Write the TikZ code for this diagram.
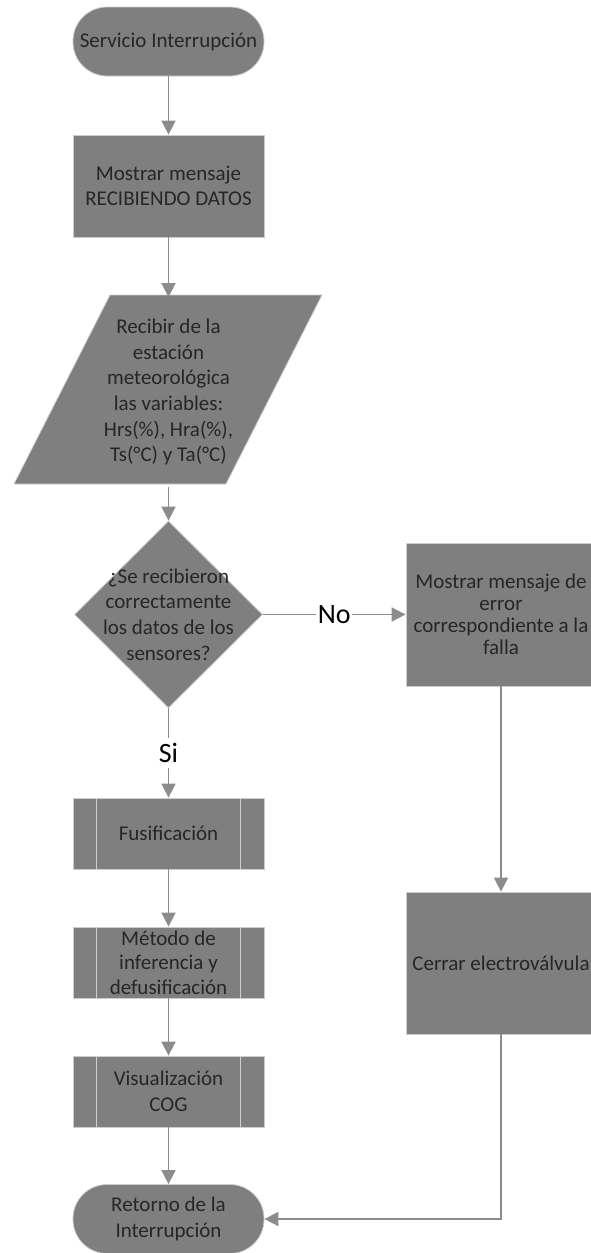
\documentclass[tikz,border=0pt]{standalone}
\usepackage{fontspec}
\setmainfont{Carlito}
\usepackage{tikz}
\usetikzlibrary{shapes.geometric,arrows.meta}
\definecolor{boxgray}{RGB}{127,127,127}
\definecolor{linegray}{RGB}{140,140,140}
\definecolor{edgegray}{RGB}{205,205,205}
\tikzset{
	box/.style={rectangle,fill=boxgray,draw=edgegray,line width=0.8pt,text=black!85,align=center,inner sep=0pt,font=\fontsize{21}{25.6}\selectfont},
	term/.style={box,rounded corners=34pt,minimum width=191pt,minimum height=69pt},
	sub/.style={box,minimum width=191pt,minimum height=71pt},
	bar/.style={draw=edgegray,line width=1.5pt},
	flow/.style={draw=linegray,line width=1.7pt,-{Triangle[width=14pt,length=14pt]}},
	tag/.style={fill=white,inner xsep=1.5pt,inner ysep=5pt,text=black,font=\fontsize{28}{30}\selectfont}
}

\begin{document}
\begin{tikzpicture}[x=1pt,y=-1pt]
	\useasboundingbox (0,0) rectangle (590,1253);

	%main column
	\node[term] (ini) at (168.5,41.5) {Servicio Interrupción};
	\node[box,minimum width=191pt,minimum height=102pt] (msg) at (168.5,186) {Mostrar mensaje\\RECIBIENDO DATOS};
	\filldraw[fill=boxgray,draw=edgegray,line width=0.8pt] (110,295) -- (322,295) -- (226,484) -- (14,484) -- cycle;	%data input
	\node[box,fill=none,draw=none,minimum height=189pt] (in) at (168.5,392) {Recibir de la\\estación\\meteorológica\\las variables:\\Hrs(\%), Hra(\%),\\Ts(°C) y Ta(°C)};
	\node[diamond,fill=boxgray,draw=edgegray,line width=0.8pt,minimum width=188pt,minimum height=187pt,inner sep=0pt] (dec) at (168.5,614.5) {};
	\node[box,fill=none,draw=none] at (dec) {¿Se recibieron\\correctamente\\los datos de los\\sensores?};
	\node[sub] (fus) at (168.5,833.5) {Fusificación};
	\node[sub,font=\fontsize{21}{24.5}\selectfont] (inf) at (168.5,962.5) {Método de\\inferencia y\\defusificación};
	\node[sub] (vis) at (168.5,1091.5) {Visualización\\COG};
	\node[term] (fin) at (168.5,1219) {Retorno de la\\Interrupción};

	%right column
	\node[box,minimum width=190pt,minimum height=143pt,font=\fontsize{21}{22}\selectfont] (err) at (501,614.5) {Mostrar mensaje de\\error\\correspondiente a la\\falla};
	\node[box,minimum width=190pt,minimum height=142pt] (cer) at (501,963) {Cerrar electroválvula};

	%side bars of the subprocess boxes
	\foreach \n in {fus,inf,vis} {
		\draw[bar] ([xshift=24pt]\n.north west) -- ([xshift=24pt]\n.south west);
		\draw[bar] ([xshift=-24pt]\n.north east) -- ([xshift=-24pt]\n.south east);
	}

	%arrows
	\draw[flow] (ini) -- (msg);
	\draw[flow] (msg) -- (in);
	\draw[flow] (in) -- (dec);
	\draw[flow] (dec) -- node[tag] {Si} (fus);
	\draw[flow] (dec) -- node[tag] {No} (err);
	\draw[flow] (fus) -- (inf);
	\draw[flow] (inf) -- (vis);
	\draw[flow] (vis) -- (fin);
	\draw[flow] (err) -- (cer);
	\draw[flow] (cer) |- (fin);
\end{tikzpicture}
\end{document}
